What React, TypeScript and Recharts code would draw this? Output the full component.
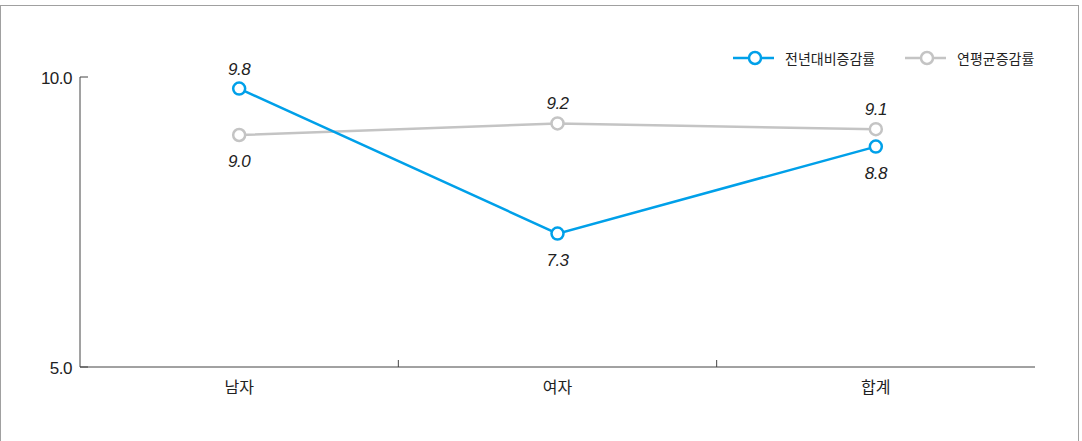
import React from "react";
import { LineChart, Line, XAxis, YAxis, LabelList } from "recharts";

const categories = ["남자", "여자", "합계"];
const yoyRate = [9.8, 7.3, 8.8];
const avgRate = [9.0, 9.2, 9.1];
const yTicks = [5, 10];
const seriesNames = ["전년대비증감률", "연평균증감률"];

const BLUE = "#00a0e9";
const GRAY = "#c4c4c4";
const AXIS = "#444";
const NUM_FONT = "'Liberation Sans', Arial, sans-serif";
const KR_FONT = "'Noto Sans CJK KR', 'Noto Sans', sans-serif";

const W = 1082;
const H = 441;
const margin = { top: 77, right: 47, left: 20, bottom: 44 };
const Y_AXIS_W = 60;
const plotWidth = W - margin.left - margin.right - Y_AXIS_W;

const data = categories.map((name, i) => ({ name, yoy: yoyRate[i], avg: avgRate[i] }));

function XTick(props: any) {
  const { x, y, payload, index } = props;
  const half = plotWidth / categories.length / 2;
  return (
    <g>
      <text x={x} y={y + 26} textAnchor="middle" fontSize={16} fontFamily={KR_FONT} fill="#222">
        {payload.value}
      </text>
      {index < categories.length - 1 && (
        <line x1={x + half} y1={y} x2={x + half} y2={y - 7} stroke={AXIS} strokeWidth={1} />
      )}
    </g>
  );
}

function YTick(props: any) {
  const { x, y, payload } = props;
  return (
    <g>
      <text x={x - 8} y={y + 7} textAnchor="end" fontSize={17} fontFamily={NUM_FONT} fill="#222" letterSpacing={-0.5}>
        {Number(payload.value).toFixed(1)}
      </text>
      <line x1={x} y1={y} x2={x + 8} y2={y} stroke={AXIS} strokeWidth={1} />
    </g>
  );
}

function makeLabel(own: number[], other: number[]) {
  return (props: any) => {
    const { x, y, index, value } = props;
    const above = own[index] >= other[index];
    return (
      <text
        x={x}
        y={above ? y - 14 : y + 32}
        textAnchor="middle"
        fontSize={17}
        fontStyle="italic"
        fontFamily={NUM_FONT}
        fill="#222"
        letterSpacing={-0.5}
      >
        {Number(value).toFixed(1)}
      </text>
    );
  };
}

function LegendItem({ color, label, x }: { color: string; label: string; x: number }) {
  return (
    <div style={{ position: "absolute", left: x, top: 48, display: "flex", alignItems: "center" }}>
      <svg width={44} height={18}>
        <line x1={1} y1={9} x2={42} y2={9} stroke={color} strokeWidth={2.5} />
        <circle cx={23} cy={9} r={6} fill="#fff" stroke={color} strokeWidth={2.5} />
      </svg>
      <span style={{ marginLeft: 9, fontSize: 14, fontFamily: KR_FONT, color: "#222" }}>{label}</span>
    </div>
  );
}

export default function App() {
  return (
    <div style={{ position: "absolute", left: 0, top: 0, width: W, height: H, background: "#fff", overflow: "hidden" }}>
      <div
        style={{
          position: "absolute",
          left: 0,
          top: 5,
          width: 1077,
          height: 450,
          border: "1px solid #a0a0a0",
        }}
      />
      <LineChart width={W} height={H} data={data} margin={margin}>
        <XAxis
          dataKey="name"
          scale="band"
          height={30}
          stroke={AXIS}
          tickLine={false}
          tickSize={0}
          tickMargin={0}
          tick={<XTick />}
          interval={0}
        />
        <YAxis
          width={Y_AXIS_W}
          domain={[5, 10]}
          ticks={yTicks}
          stroke={AXIS}
          tickLine={false}
          tickSize={0}
          tickMargin={0}
          tick={<YTick />}
        />
        <Line
          dataKey="avg"
          name={seriesNames[1]}
          stroke={GRAY}
          strokeWidth={2.5}
          dot={{ r: 6, fill: "#fff", stroke: GRAY, strokeWidth: 2.5 }}
          isAnimationActive={false}
        >
          <LabelList dataKey="avg" content={makeLabel(avgRate, yoyRate)} />
        </Line>
        <Line
          dataKey="yoy"
          name={seriesNames[0]}
          stroke={BLUE}
          strokeWidth={2.5}
          dot={{ r: 6, fill: "#fff", stroke: BLUE, strokeWidth: 2.5 }}
          isAnimationActive={false}
        >
          <LabelList dataKey="yoy" content={makeLabel(yoyRate, avgRate)} />
        </Line>
      </LineChart>
      <LegendItem color={BLUE} label={seriesNames[0]} x={732} />
      <LegendItem color={GRAY} label={seriesNames[1]} x={904} />
    </div>
  );
}
